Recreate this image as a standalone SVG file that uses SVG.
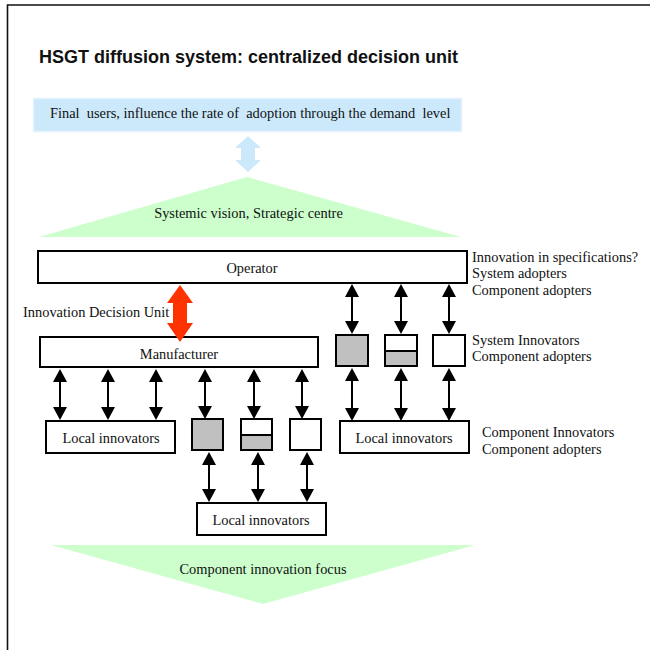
<svg xmlns="http://www.w3.org/2000/svg" width="650" height="650" viewBox="0 0 650 650">
<style>
.t{font-family:"Liberation Serif","Times New Roman",serif;font-size:14.4px;fill:#111;white-space:pre}
.c{text-anchor:middle}
.box{fill:#fff;stroke:#000;stroke-width:2}
.gray{fill:#c0c0c0;stroke:#000;stroke-width:2}
.arr{stroke:#000;stroke-width:2;fill:none;marker-start:url(#ah);marker-end:url(#ah)}
</style>
<defs>
<marker id="ah" markerUnits="userSpaceOnUse" viewBox="0 0 13 14" markerWidth="13" markerHeight="14" refX="11" refY="7" orient="auto-start-reverse">
<path d="M0,0 L13,7 L0,14 z" fill="#000"/>
</marker>
</defs>
<rect width="650" height="650" fill="#fff"/>
<path d="M7.5,700 V5 H700" fill="none" stroke="#111" stroke-width="1.6"/>
<text x="39" y="63" style="font-family:'Liberation Sans',Arial,sans-serif;font-weight:bold;font-size:18px;fill:#111">HSGT diffusion system: centralized decision unit</text>

<g id="final-users">
<rect x="33.5" y="98.5" width="428" height="33" fill="#cce9fc" stroke="#e2f3fd" stroke-width="1.5"/>
<text class="t" x="50" y="118">Final  users, influence the rate of  adoption through the demand  level</text>
</g>

<g id="systemic-vision">
<polygon points="39,237 247,177 461,237" fill="#ccffcc"/>
<text class="t c" x="248.5" y="218">Systemic vision, Strategic centre</text>
</g>

<g id="operator">
<rect class="box" x="38" y="251" width="429" height="32"/>
<text class="t c" x="252" y="273">Operator</text>
</g>
<g id="operator-labels">
<text class="t" x="472" y="262">Innovation in specifications?</text>
<text class="t" x="472" y="278">System adopters</text>
<text class="t" x="472" y="295">Component adopters</text>
</g>

<g id="decision-unit-label">
<text class="t" x="23" y="317">Innovation Decision Unit</text>
</g>

<g id="manufacturer">
<rect class="box" x="40" y="337" width="278" height="30"/>
<text class="t c" x="179" y="359">Manufacturer</text>
</g>

<g id="sys-box-1"><rect class="gray" x="336" y="335" width="32" height="31"/></g>
<g id="sys-box-2"><rect class="box" x="385" y="335" width="32" height="31"/><rect class="gray" x="385" y="351" width="32" height="15"/></g>
<g id="sys-box-3"><rect class="box" x="433" y="335" width="32" height="31"/></g>
<g id="sys-labels">
<text class="t" x="472" y="345">System Innovators</text>
<text class="t" x="472" y="361">Component adopters</text>
</g>

<g id="local-innovators-left">
<rect class="box" x="46" y="421" width="129" height="32"/>
<text class="t c" x="111" y="443">Local innovators</text>
</g>
<g id="comp-box-1"><rect class="gray" x="192" y="419" width="31" height="31"/></g>
<g id="comp-box-2"><rect class="box" x="241" y="419" width="31" height="31"/><rect class="gray" x="241" y="435" width="31" height="15"/></g>
<g id="comp-box-3"><rect class="box" x="290" y="419" width="31" height="31"/></g>
<g id="local-innovators-right">
<rect class="box" x="340" y="421" width="129" height="32"/>
<text class="t c" x="404" y="443">Local innovators</text>
</g>
<g id="comp-labels">
<text class="t" x="482" y="437">Component Innovators</text>
<text class="t" x="482" y="454">Component adopters</text>
</g>

<g id="local-innovators-bottom">
<rect class="box" x="197" y="503" width="129" height="32"/>
<text class="t c" x="261" y="525">Local innovators</text>
</g>

<g id="component-focus">
<polygon points="51,545 475,545 263,604" fill="#ccffcc"/>
<text class="t c" x="263" y="574">Component innovation focus</text>
</g>

<g id="connectors">
<polygon points="248,136 261,148 255,148 255,160 261,160 248,172 235,160 241,160 241,148 235,148" fill="#cce9fc"/>
<polygon points="180,285 193,303 187,303 187,323 193,323 180,342 167,323 173,323 173,303 167,303" fill="#ff3300"/>
<line class="arr" x1="352" y1="286" x2="352" y2="332"/>
<line class="arr" x1="401" y1="286" x2="401" y2="332"/>
<line class="arr" x1="449" y1="286" x2="449" y2="332"/>
<line class="arr" x1="352" y1="370" x2="352" y2="419"/>
<line class="arr" x1="401" y1="370" x2="401" y2="419"/>
<line class="arr" x1="449" y1="370" x2="449" y2="419"/>
<line class="arr" x1="60" y1="371" x2="60" y2="418"/>
<line class="arr" x1="108" y1="371" x2="108" y2="418"/>
<line class="arr" x1="156" y1="371" x2="156" y2="418"/>
<line class="arr" x1="205" y1="371" x2="205" y2="417"/>
<line class="arr" x1="254" y1="371" x2="254" y2="417"/>
<line class="arr" x1="302" y1="371" x2="302" y2="417"/>
<line class="arr" x1="209" y1="454" x2="209" y2="500"/>
<line class="arr" x1="258" y1="454" x2="258" y2="500"/>
<line class="arr" x1="307" y1="454" x2="307" y2="500"/>
</g>
</svg>
